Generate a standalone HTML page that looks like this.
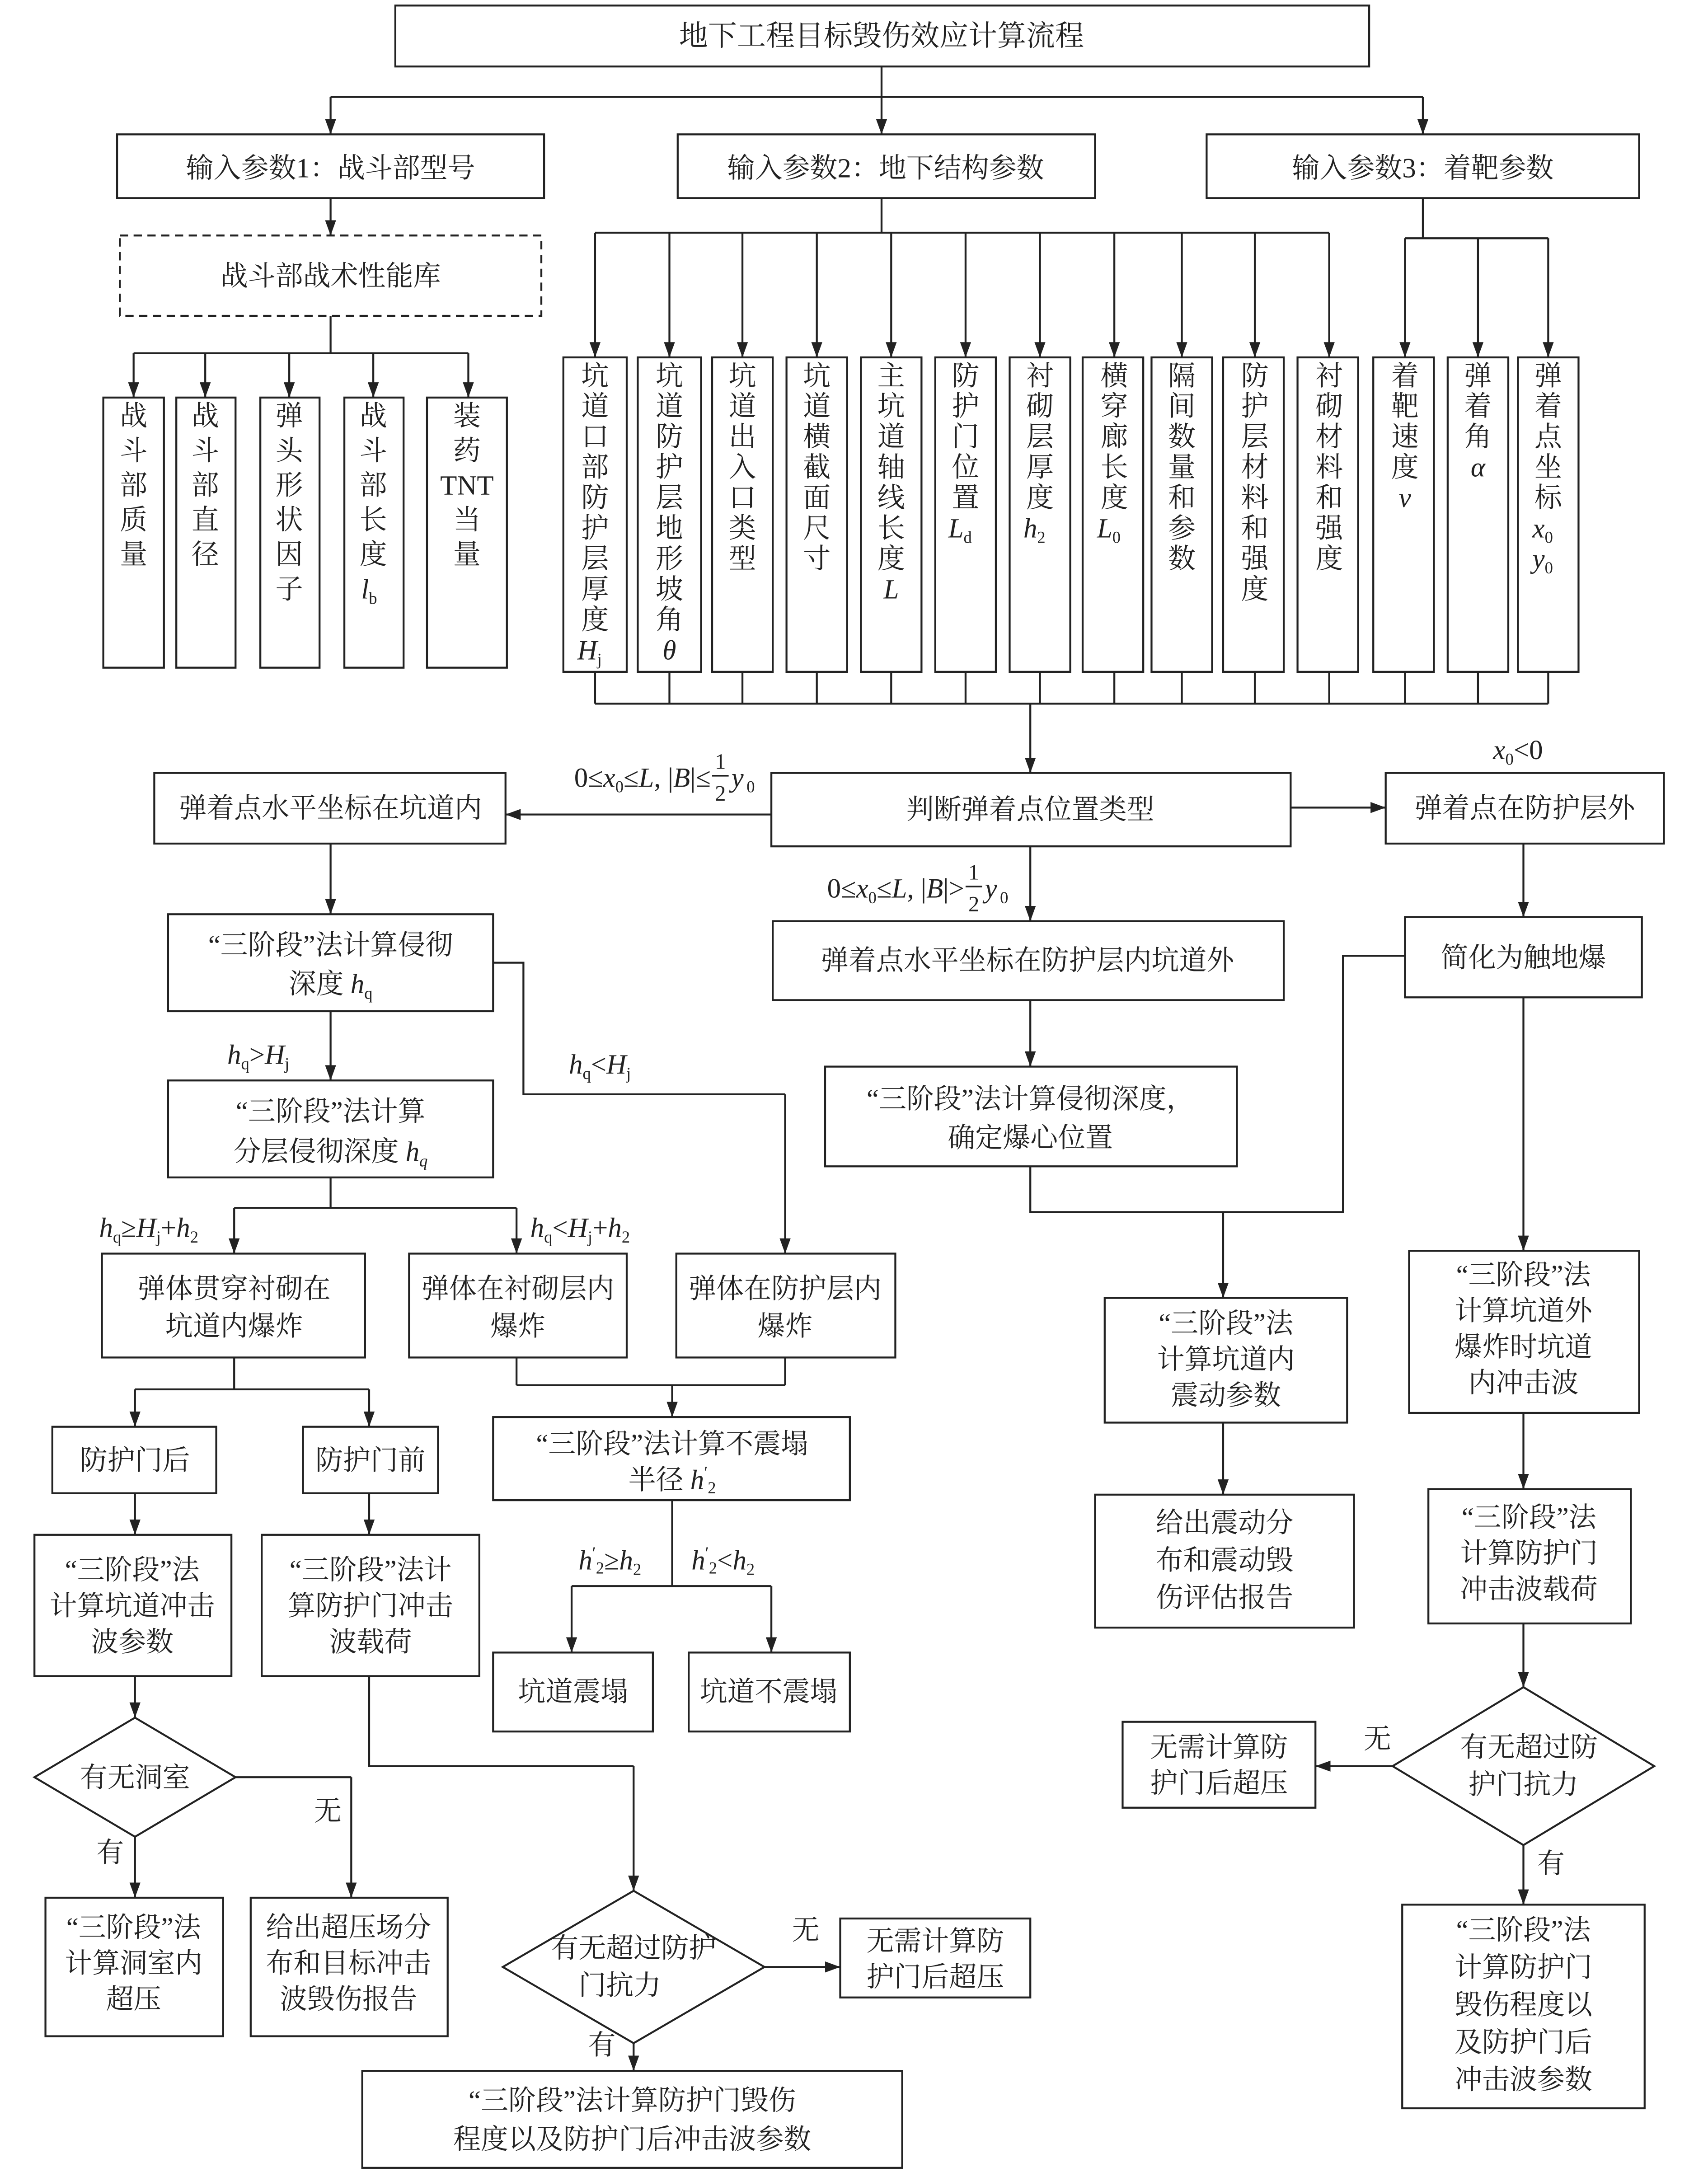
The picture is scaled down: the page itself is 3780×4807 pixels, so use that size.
<!DOCTYPE html>
<html><head><meta charset="utf-8"><style>
html,body{margin:0;padding:0;background:#fff;}
svg{display:block;}
text{font-family:"Liberation Serif","Noto Serif CJK SC",serif;fill:#222;}
</style></head><body>
<svg width="3780" height="4807" viewBox="0 0 1240 1568" preserveAspectRatio="none" xmlns="http://www.w3.org/2000/svg">
<defs>
<marker id="a" markerUnits="userSpaceOnUse" markerWidth="12" markerHeight="10" refX="11" refY="4" orient="auto"><path d="M0,0 L11,4 L0,8 Z" fill="#222"/></marker>
</defs>
<g fill="none" stroke="#222" stroke-width="1.4">
<rect x="287" y="4" width="707" height="44"/>
<rect x="85" y="97" width="310" height="46"/>
<rect x="492" y="97" width="303" height="46"/>
<rect x="876" y="97" width="314" height="46"/>
<rect x="87" y="170" width="306" height="58" stroke-dasharray="6,4"/>
<rect x="75" y="287" width="44" height="195"/>
<rect x="128" y="287" width="43" height="195"/>
<rect x="189" y="287" width="43" height="195"/>
<rect x="250" y="287" width="43" height="195"/>
<rect x="310" y="287" width="58" height="195"/>
<rect x="409" y="258" width="46" height="227"/>
<rect x="463" y="258" width="46" height="227"/>
<rect x="517" y="258" width="44" height="227"/>
<rect x="571" y="258" width="44" height="227"/>
<rect x="625" y="258" width="44" height="227"/>
<rect x="679" y="258" width="44" height="227"/>
<rect x="733" y="258" width="44" height="227"/>
<rect x="786" y="258" width="44" height="227"/>
<rect x="836" y="258" width="44" height="227"/>
<rect x="888" y="258" width="44" height="227"/>
<rect x="942" y="258" width="44" height="227"/>
<rect x="997" y="258" width="44" height="227"/>
<rect x="1051" y="258" width="44" height="227"/>
<rect x="1102" y="258" width="44" height="227"/>
<rect x="560" y="558" width="377" height="53"/>
<rect x="112" y="558" width="255" height="51"/>
<rect x="1006" y="558" width="202" height="51"/>
<rect x="561" y="665" width="371" height="57"/>
<rect x="599" y="770" width="299" height="72"/>
<rect x="1020" y="662" width="172" height="58"/>
<rect x="802" y="937" width="176" height="90"/>
<rect x="795" y="1079" width="188" height="96"/>
<rect x="1023" y="903" width="167" height="117"/>
<rect x="1037" y="1075" width="147" height="97"/>
<polygon points="1106,1218 1201,1275 1106,1332 1011,1275"/>
<rect x="815" y="1243" width="140" height="62"/>
<rect x="1018" y="1375" width="176" height="147"/>
<rect x="122" y="660" width="236" height="70"/>
<rect x="122" y="780" width="236" height="70"/>
<rect x="491" y="905" width="159" height="75"/>
<rect x="74" y="905" width="191" height="75"/>
<rect x="297" y="905" width="158" height="75"/>
<rect x="38" y="1030" width="119" height="48"/>
<rect x="220" y="1030" width="98" height="48"/>
<rect x="358" y="1023" width="259" height="60"/>
<rect x="358" y="1193" width="116" height="57"/>
<rect x="500" y="1193" width="117" height="57"/>
<rect x="25" y="1108" width="143" height="102"/>
<rect x="190" y="1108" width="158" height="102"/>
<polygon points="98,1240 171,1283 98,1326 25,1283"/>
<rect x="33" y="1370" width="129" height="100"/>
<rect x="182" y="1370" width="143" height="100"/>
<polygon points="460,1365 555,1420 460,1475 365,1420"/>
<rect x="610" y="1385" width="138" height="57"/>
<rect x="263" y="1495" width="392" height="70"/>
</g>
<g fill="none" stroke="#222" stroke-width="1.4">
<path d="M640,48V70M240,70H1033M640,143V168M432,168H965M1033,143V172M1020,172H1124M240,228V255M97,255H340"/>
<path d="M432,485V508M486,485V508M539,485V508M593,485V508M647,485V508M701,485V508M755,485V508M809,485V508M858,485V508M911,485V508M965,485V508M1020,485V508M1073,485V508M1124,485V508M432,508H1124"/>
<path d="M748,842V875H888M1020,690H975V875H888"/>
<path d="M358,695H380V790H570"/>
<path d="M240,850V872M170,872H375M170,980V1003M98,1003H268"/>
<path d="M375,980V1000M570,980V1000M375,1000H570"/>
<path d="M488,1083V1145M415,1145H560"/>
<path d="M171,1283H255"/>
<path d="M268,1210V1275H460"/>
<path d="M517,560H529M701,640H713" stroke-width="1.2"/>
</g>
<g fill="none" stroke="#222" stroke-width="1.4" marker-end="url(#a)">
<path d="M240,70V97"/><path d="M640,70V97"/><path d="M1033,70V97"/>
<path d="M240,143V170"/>
<path d="M97,255V287"/><path d="M149,255V287"/><path d="M210,255V287"/><path d="M271,255V287"/><path d="M340,255V287"/>
<path d="M432,168V258"/><path d="M486,168V258"/><path d="M539,168V258"/><path d="M593,168V258"/><path d="M647,168V258"/><path d="M701,168V258"/><path d="M755,168V258"/><path d="M809,168V258"/><path d="M858,168V258"/><path d="M911,168V258"/><path d="M965,168V258"/>
<path d="M1020,172V258"/><path d="M1073,172V258"/><path d="M1124,172V258"/>
<path d="M748,508V558"/>
<path d="M560,588H367"/>
<path d="M937,583H1006"/>
<path d="M748,611V665"/>
<path d="M748,722V770"/>
<path d="M888,875V937"/>
<path d="M888,1027V1079"/>
<path d="M1106,609V662"/>
<path d="M1106,720V903"/>
<path d="M1106,1020V1075"/>
<path d="M1106,1172V1218"/>
<path d="M1011,1275H955"/>
<path d="M1106,1332V1375"/>
<path d="M240,609V660"/>
<path d="M240,730V780"/>
<path d="M570,790V905"/>
<path d="M170,872V905"/><path d="M375,872V905"/>
<path d="M98,1003V1030"/><path d="M268,1003V1030"/>
<path d="M488,1000V1023"/>
<path d="M415,1145V1193"/><path d="M560,1145V1193"/>
<path d="M98,1078V1108"/><path d="M268,1078V1108"/>
<path d="M98,1210V1240"/>
<path d="M98,1326V1370"/>
<path d="M255,1283V1370"/>
<path d="M460,1275V1365"/>
<path d="M555,1420H610"/>
<path d="M460,1475V1495"/>
</g>
<g font-size="20" text-anchor="middle">
<text x="640" y="33" font-size="21">地下工程目标毁伤效应计算流程</text>
<text x="240" y="128">输入参数1：战斗部型号</text>
<text x="643" y="128">输入参数2：地下结构参数</text>
<text x="1033" y="128">输入参数3：着靶参数</text>
<text x="240" y="206">战斗部战术性能库</text>
<text y="307"><tspan x="97">战</tspan><tspan x="97" dy="25">斗</tspan><tspan x="97" dy="25">部</tspan><tspan x="97" dy="25">质</tspan><tspan x="97" dy="25">量</tspan></text>
<text y="307"><tspan x="149">战</tspan><tspan x="149" dy="25">斗</tspan><tspan x="149" dy="25">部</tspan><tspan x="149" dy="25">直</tspan><tspan x="149" dy="25">径</tspan></text>
<text y="307"><tspan x="210">弹</tspan><tspan x="210" dy="25">头</tspan><tspan x="210" dy="25">形</tspan><tspan x="210" dy="25">状</tspan><tspan x="210" dy="25">因</tspan><tspan x="210" dy="25">子</tspan></text>
<text y="307"><tspan x="271">战</tspan><tspan x="271" dy="25">斗</tspan><tspan x="271" dy="25">部</tspan><tspan x="271" dy="25">长</tspan><tspan x="271" dy="25">度</tspan><tspan x="268" dy="25" font-style="italic">l</tspan><tspan font-size="12" dy="4">b</tspan></text>
<text y="307"><tspan x="339">装</tspan><tspan x="339" dy="25">药</tspan><tspan x="339" dy="25">TNT</tspan><tspan x="339" dy="25">当</tspan><tspan x="339" dy="25">量</tspan></text>
<text y="278"><tspan x="432">坑</tspan><tspan x="432" dy="22">道</tspan><tspan x="432" dy="22">口</tspan><tspan x="432" dy="22">部</tspan><tspan x="432" dy="22">防</tspan><tspan x="432" dy="22">护</tspan><tspan x="432" dy="22">层</tspan><tspan x="432" dy="22">厚</tspan><tspan x="432" dy="22">度</tspan><tspan x="428" dy="22" font-style="italic">H</tspan><tspan font-size="12" dy="4">j</tspan></text>
<text y="278"><tspan x="486">坑</tspan><tspan x="486" dy="22">道</tspan><tspan x="486" dy="22">防</tspan><tspan x="486" dy="22">护</tspan><tspan x="486" dy="22">层</tspan><tspan x="486" dy="22">地</tspan><tspan x="486" dy="22">形</tspan><tspan x="486" dy="22">坡</tspan><tspan x="486" dy="22">角</tspan><tspan x="486" dy="22" font-style="italic">θ</tspan></text>
<text y="278"><tspan x="539">坑</tspan><tspan x="539" dy="22">道</tspan><tspan x="539" dy="22">出</tspan><tspan x="539" dy="22">入</tspan><tspan x="539" dy="22">口</tspan><tspan x="539" dy="22">类</tspan><tspan x="539" dy="22">型</tspan></text>
<text y="278"><tspan x="593">坑</tspan><tspan x="593" dy="22">道</tspan><tspan x="593" dy="22">横</tspan><tspan x="593" dy="22">截</tspan><tspan x="593" dy="22">面</tspan><tspan x="593" dy="22">尺</tspan><tspan x="593" dy="22">寸</tspan></text>
<text y="278"><tspan x="647">主</tspan><tspan x="647" dy="22">坑</tspan><tspan x="647" dy="22">道</tspan><tspan x="647" dy="22">轴</tspan><tspan x="647" dy="22">线</tspan><tspan x="647" dy="22">长</tspan><tspan x="647" dy="22">度</tspan><tspan x="647" dy="22" font-style="italic">L</tspan></text>
<text y="278"><tspan x="701">防</tspan><tspan x="701" dy="22">护</tspan><tspan x="701" dy="22">门</tspan><tspan x="701" dy="22">位</tspan><tspan x="701" dy="22">置</tspan><tspan x="697" dy="22" font-style="italic">L</tspan><tspan font-size="12" dy="4">d</tspan></text>
<text y="278"><tspan x="755">衬</tspan><tspan x="755" dy="22">砌</tspan><tspan x="755" dy="22">层</tspan><tspan x="755" dy="22">厚</tspan><tspan x="755" dy="22">度</tspan><tspan x="751" dy="22" font-style="italic">h</tspan><tspan font-size="12" dy="4">2</tspan></text>
<text y="278"><tspan x="809">横</tspan><tspan x="809" dy="22">穿</tspan><tspan x="809" dy="22">廊</tspan><tspan x="809" dy="22">长</tspan><tspan x="809" dy="22">度</tspan><tspan x="805" dy="22" font-style="italic">L</tspan><tspan font-size="12" dy="4">0</tspan></text>
<text y="278"><tspan x="858">隔</tspan><tspan x="858" dy="22">间</tspan><tspan x="858" dy="22">数</tspan><tspan x="858" dy="22">量</tspan><tspan x="858" dy="22">和</tspan><tspan x="858" dy="22">参</tspan><tspan x="858" dy="22">数</tspan></text>
<text y="278"><tspan x="911">防</tspan><tspan x="911" dy="22">护</tspan><tspan x="911" dy="22">层</tspan><tspan x="911" dy="22">材</tspan><tspan x="911" dy="22">料</tspan><tspan x="911" dy="22">和</tspan><tspan x="911" dy="22">强</tspan><tspan x="911" dy="22">度</tspan></text>
<text y="278"><tspan x="965">衬</tspan><tspan x="965" dy="22">砌</tspan><tspan x="965" dy="22">材</tspan><tspan x="965" dy="22">料</tspan><tspan x="965" dy="22">和</tspan><tspan x="965" dy="22">强</tspan><tspan x="965" dy="22">度</tspan></text>
<text y="278"><tspan x="1020">着</tspan><tspan x="1020" dy="22">靶</tspan><tspan x="1020" dy="22">速</tspan><tspan x="1020" dy="22">度</tspan><tspan x="1020" dy="22" font-style="italic">v</tspan></text>
<text y="278"><tspan x="1073">弹</tspan><tspan x="1073" dy="22">着</tspan><tspan x="1073" dy="22">角</tspan><tspan x="1073" dy="22" font-style="italic">α</tspan></text>
<text y="278"><tspan x="1124">弹</tspan><tspan x="1124" dy="22">着</tspan><tspan x="1124" dy="22">点</tspan><tspan x="1124" dy="22">坐</tspan><tspan x="1124" dy="22">标</tspan><tspan x="1120" dy="22" font-style="italic">x</tspan><tspan font-size="12" dy="4">0</tspan><tspan x="1120" dy="18" font-style="italic">y</tspan><tspan font-size="12" dy="4">0</tspan></text>

<text x="748" y="591">判断弹着点位置类型</text>
<text x="240" y="590">弹着点水平坐标在坑道内</text>
<text x="1107" y="590">弹着点在防护层外</text>
<text x="746" y="700">弹着点水平坐标在防护层内坑道外</text>
<text x="748" y="800">“三阶段”法计算侵彻深度，</text>
<text x="748" y="828">确定爆心位置</text>
<text x="1106" y="698">简化为触地爆</text>
<text x="890" y="962">“三阶段”法</text><text x="890" y="988">计算坑道内</text><text x="890" y="1014">震动参数</text>
<text x="889" y="1106">给出震动分</text><text x="889" y="1133">布和震动毁</text><text x="889" y="1160">伤评估报告</text>
<text x="1106" y="927">“三阶段”法</text><text x="1106" y="953">计算坑道外</text><text x="1106" y="979">爆炸时坑道</text><text x="1106" y="1005">内冲击波</text>
<text x="1110" y="1102">“三阶段”法</text><text x="1110" y="1128">计算防护门</text><text x="1110" y="1154">冲击波载荷</text>
<text x="1110" y="1268">有无超过防</text><text x="1106" y="1295">护门抗力</text>
<text x="885" y="1268">无需计算防</text><text x="885" y="1294">护门后超压</text>
<text x="1106" y="1400">“三阶段”法</text><text x="1106" y="1427">计算防护门</text><text x="1106" y="1454">毁伤程度以</text><text x="1106" y="1481">及防护门后</text><text x="1106" y="1508">冲击波参数</text>
<text x="240" y="689">“三阶段”法计算侵彻</text>
<text x="240" y="717">深度 <tspan font-style="italic">h</tspan><tspan font-size="12" dy="4">q</tspan></text>
<text x="240" y="809">“三阶段”法计算</text>
<text x="240" y="838">分层侵彻深度 <tspan font-style="italic">h</tspan><tspan font-size="12" dy="4" font-style="italic">q</tspan></text>
<text x="570" y="937">弹体在防护层内</text><text x="570" y="964">爆炸</text>
<text x="170" y="937">弹体贯穿衬砌在</text><text x="170" y="964">坑道内爆炸</text>
<text x="376" y="937">弹体在衬砌层内</text><text x="376" y="964">爆炸</text>
<text x="98" y="1061">防护门后</text>
<text x="269" y="1061">防护门前</text>
<text x="488" y="1049">“三阶段”法计算不震塌</text>
<text x="488" y="1075">半径 <tspan font-style="italic">h</tspan><tspan font-size="12" dy="-8">′</tspan><tspan font-size="12" dy="11">2</tspan></text>
<text x="416" y="1228">坑道震塌</text>
<text x="558" y="1228">坑道不震塌</text>
<text x="96" y="1140">“三阶段”法</text><text x="96" y="1166">计算坑道冲击</text><text x="96" y="1192">波参数</text>
<text x="269" y="1140">“三阶段”法计</text><text x="269" y="1166">算防护门冲击</text><text x="269" y="1192">波载荷</text>
<text x="98" y="1290">有无洞室</text>
<text x="97" y="1398">“三阶段”法</text><text x="97" y="1424">计算洞室内</text><text x="97" y="1450">超压</text>
<text x="253" y="1398">给出超压场分</text><text x="253" y="1424">布和目标冲击</text><text x="253" y="1450">波毁伤报告</text>
<text x="460" y="1413">有无超过防护</text><text x="450" y="1440">门抗力</text>
<text x="679" y="1408">无需计算防</text><text x="679" y="1434">护门后超压</text>
<text x="459" y="1523">“三阶段”法计算防护门毁伤</text>
<text x="459" y="1551">程度以及防护门后冲击波参数</text>
</g>
<g font-size="20">
<text x="516" y="568" text-anchor="end">0≤<tspan font-style="italic">x</tspan><tspan font-size="12" dy="4">0</tspan><tspan dy="-4">≤</tspan><tspan font-style="italic">L</tspan>, |<tspan font-style="italic">B</tspan>|≤</text>
<text x="519" y="555" font-size="16">1</text><text x="519" y="578" font-size="16">2</text>
<text x="531" y="568" font-style="italic">y</text><text x="542" y="572" font-size="12">0</text>
<text x="700" y="648" text-anchor="end">0≤<tspan font-style="italic">x</tspan><tspan font-size="12" dy="4">0</tspan><tspan dy="-4">≤</tspan><tspan font-style="italic">L</tspan>, |<tspan font-style="italic">B</tspan>|&gt;</text>
<text x="703" y="635" font-size="16">1</text><text x="703" y="658" font-size="16">2</text>
<text x="715" y="648" font-style="italic">y</text><text x="726" y="652" font-size="12">0</text>
<text x="1084" y="548" font-style="italic">x<tspan font-size="12" dy="4" font-style="normal">0</tspan><tspan dy="-4" font-style="normal">&lt;0</tspan></text>
<text x="165" y="768" font-style="italic">h<tspan font-size="12" dy="4" font-style="normal">q</tspan><tspan dy="-4" font-style="normal">&gt;</tspan>H<tspan font-size="12" dy="4" font-style="normal">j</tspan></text>
<text x="413" y="775" font-style="italic">h<tspan font-size="12" dy="4" font-style="normal">q</tspan><tspan dy="-4" font-style="normal">&lt;</tspan>H<tspan font-size="12" dy="4" font-style="normal">j</tspan></text>
<text x="72" y="893" font-style="italic">h<tspan font-size="12" dy="4" font-style="normal">q</tspan><tspan dy="-4" font-style="normal">≥</tspan>H<tspan font-size="12" dy="4" font-style="normal">j</tspan><tspan dy="-4" font-style="normal">+</tspan>h<tspan font-size="12" dy="4" font-style="normal">2</tspan></text>
<text x="385" y="893" font-style="italic">h<tspan font-size="12" dy="4" font-style="normal">q</tspan><tspan dy="-4" font-style="normal">&lt;</tspan>H<tspan font-size="12" dy="4" font-style="normal">j</tspan><tspan dy="-4" font-style="normal">+</tspan>h<tspan font-size="12" dy="4" font-style="normal">2</tspan></text>
<text x="420" y="1133" font-style="italic">h<tspan font-size="12" dy="-8" font-style="normal">′</tspan><tspan font-size="12" dy="11" font-style="normal">2</tspan><tspan dy="-3" font-style="normal">≥</tspan>h<tspan font-size="12" dy="4" font-style="normal">2</tspan></text>
<text x="502" y="1133" font-style="italic">h<tspan font-size="12" dy="-8" font-style="normal">′</tspan><tspan font-size="12" dy="11" font-style="normal">2</tspan><tspan dy="-3" font-style="normal">&lt;</tspan>h<tspan font-size="12" dy="4" font-style="normal">2</tspan></text>
<text x="990" y="1262">无</text>
<text x="1116" y="1352">有</text>
<text x="70" y="1344">有</text>
<text x="228" y="1314">无</text>
<text x="575" y="1400">无</text>
<text x="427" y="1483">有</text>
</g>
</svg>
</body></html>
